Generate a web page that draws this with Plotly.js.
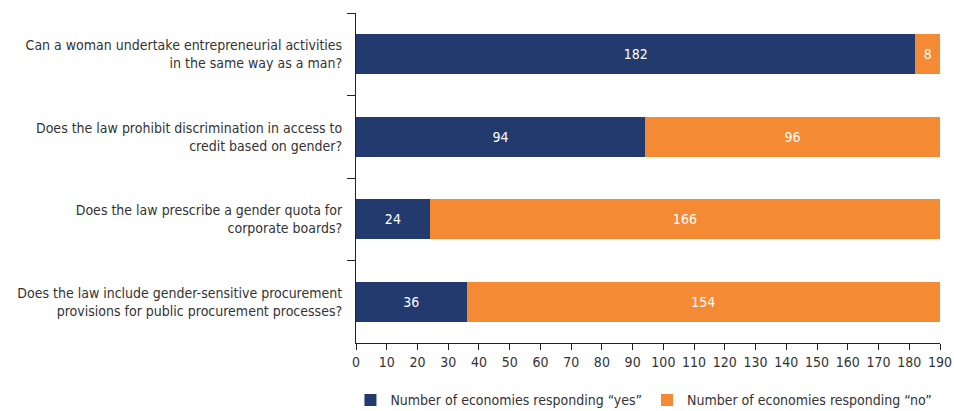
<!DOCTYPE html>
<html>
<head>
<meta charset="utf-8">
<script src="https://cdn.plot.ly/plotly-3.0.1.min.js"></script>
<style>html,body{margin:0;padding:0;background:#fff;}#chart{width:954px;height:411px;}</style>
</head>
<body>
<div id="chart"></div>
<script>
const categories = [
  "Can a woman undertake entrepreneurial activities<br>in the same way as a man?",
  "Does the law prohibit discrimination in access to<br>credit based on gender?",
  "Does the law prescribe a gender quota for<br>corporate boards?",
  "Does the law include gender-sensitive procurement<br>provisions for public procurement processes?"
];
const yesValues = [182, 94, 24, 36];
const noValues = [8, 96, 166, 154];
const seriesNames = ["Number of economies responding \u201cyes\u201d", "Number of economies responding \u201cno\u201d"];
const xTicks = [0,10,20,30,40,50,60,70,80,90,100,110,120,130,140,150,160,170,180,190];

const FONT = "'DejaVu Sans Condensed', 'Liberation Sans Narrow', sans-serif";

const traces = [
  {type:'bar', orientation:'h', name:seriesNames[0], y:categories, x:yesValues,
   text:yesValues.map(String), textposition:'inside', insidetextanchor:'middle',
   textfont:{color:'#ffffff', size:14, family:FONT},
   marker:{color:'#223a6e'}, hoverinfo:'x'},
  {type:'bar', orientation:'h', name:seriesNames[1], y:categories, x:noValues,
   text:noValues.map(String), textposition:'inside', insidetextanchor:'middle',
   textfont:{color:'#ffffff', size:14, family:FONT},
   marker:{color:'#f58a34'}, hoverinfo:'x'}
];

const layout = {
  width:954, height:411,
  margin:{l:356, r:14, t:13, b:68},
  barmode:'stack', bargap:0.51,
  font:{family:FONT, size:14, color:'#333333'},
  paper_bgcolor:'#ffffff', plot_bgcolor:'#ffffff',
  uniformtext:{mode:'show', minsize:12},
  xaxis:{range:[0,190], tickvals:xTicks, ticktext:xTicks.map(String),
         showgrid:false, zeroline:false, showline:true, linecolor:'#222', linewidth:1,
         ticks:'outside', ticklen:6, tickcolor:'#222', tickfont:{size:14, color:'#333'},
         automargin:false},
  yaxis:{autorange:'reversed', showgrid:false, zeroline:false, showline:true,
         linecolor:'#222', linewidth:1, ticks:'outside', tickson:'boundaries',
         ticklen:8, tickcolor:'#222', tickfont:{size:14, color:'#333'}, automargin:false,
         ticklabelstandoff:10},
  showlegend:true,
  legend:{orientation:'h', xref:'container', yref:'container', x:0.675, xanchor:'center',
          y:0.065, yanchor:'top', font:{size:14, color:'#333'}, traceorder:'normal',
          itemwidth:30, tracegroupgap:0}
};

Plotly.newPlot('chart', traces, layout, {displayModeBar:false, staticPlot:true});
</script>
</body>
</html>
